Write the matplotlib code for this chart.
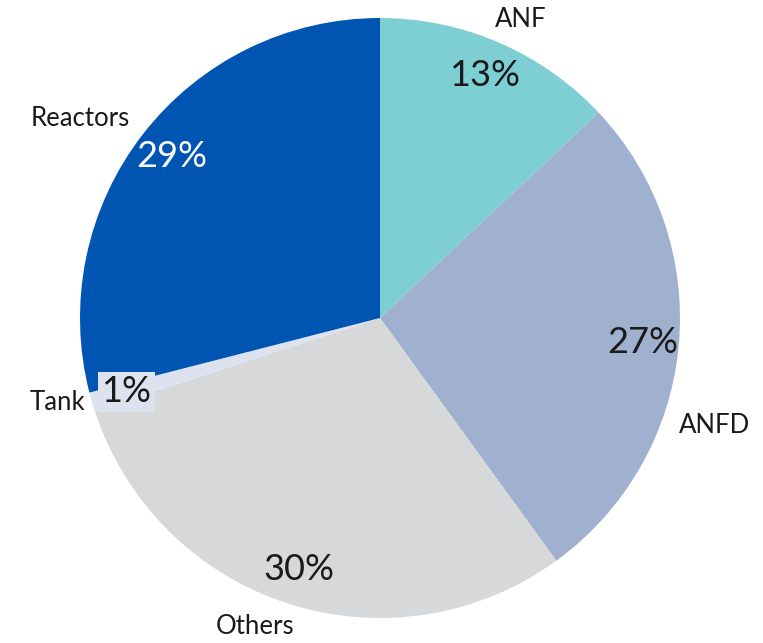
import numpy as np
import matplotlib.pyplot as plt

labels = ['ANF', 'ANFD', 'Others', 'Tank', 'Reactors']
shares = [13, 27, 30, 1, 29]
colors = ['#7ECFD4', '#9FB1CF', '#D7D8DA', '#DCE3EE', '#0055B3']
pct_colors = ['#1a1a1a', '#1a1a1a', '#1a1a1a', '#1a1a1a', 'white']
# label placement tweaks (distance in radii, angle shift in degrees)
lab_dist = [1.10, 1.17, 1.11, 1.11, 1.20]
lab_shift = [-1.8, -12.4, -4.0, -1.5, 4.1]

plt.rcParams['font.family'] = ['Lato', 'DejaVu Sans']

fig = plt.figure(figsize=(7.63, 6.43), dpi=100)
ax = fig.add_axes([0, 0, 1, 1])

cx, cy, r = 380, 643 - 318, 300
wedges, _ = ax.pie(shares, colors=colors, startangle=90, counterclock=False,
                   center=(cx, cy), radius=r, frame=True,
                   wedgeprops=dict(linewidth=0))
ax.set_xlim(0, 763)
ax.set_ylim(0, 643)
ax.set_aspect('equal')
ax.axis('off')

for i, w in enumerate(wedges):
    mid = np.deg2rad((w.theta1 + w.theta2) / 2)
    px = cx + 0.88 * r * np.cos(mid)
    py = cy + 0.88 * r * np.sin(mid)
    bbox = None
    if labels[i] == 'Tank':
        bbox = dict(boxstyle='square,pad=0.1', fc=colors[i], ec='none')
    ax.text(px, py, f'{shares[i]}%', ha='center', va='center', fontsize=26,
            color=pct_colors[i], bbox=bbox)
    la = mid + np.deg2rad(lab_shift[i])
    lx = cx + lab_dist[i] * r * np.cos(la)
    ly = cy + lab_dist[i] * r * np.sin(la)
    ax.text(lx, ly, labels[i], ha='center', va='center', fontsize=18.5,
            color='#1a1a1a')

fig.savefig('out.png', dpi=100)
